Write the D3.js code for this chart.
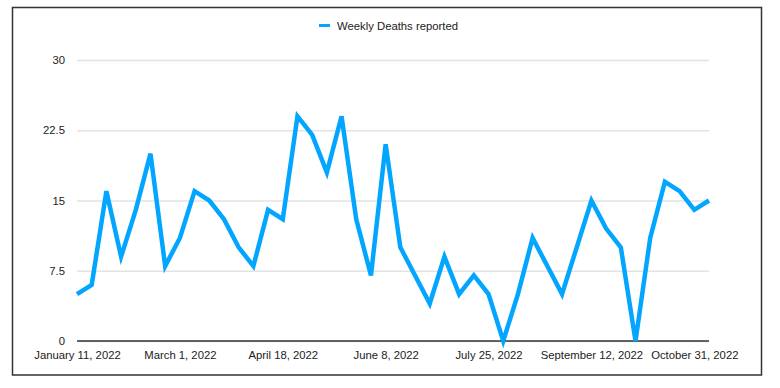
<!DOCTYPE html>
<html>
<head>
<meta charset="utf-8">
<script src="https://cdn.jsdelivr.net/npm/d3@7"></script>
<style>
  body { margin: 0; background: #fff; }
  text { font-family: "Liberation Sans", Arial, Helvetica, sans-serif; }
</style>
</head>
<body>
<div id="chart"></div>
<script>
// data
var seriesName = "Weekly Deaths reported";
var deaths = [5, 6, 16, 9, 14, 20, 8, 11, 16, 15, 13, 10, 8, 14, 13, 24, 22, 18, 24, 13, 7, 21,
    10, 7, 4, 9, 5, 7, 5, 0, 5, 11, 8, 5, 10, 15, 12, 10, 0, 11, 17, 16, 14, 15];
var tickIndex = [0, 7, 14, 21, 28, 35, 42];
var tickLabels = ["January 11, 2022", "March 1, 2022", "April 18, 2022", "June 8, 2022",
    "July 25, 2022", "September 12, 2022", "October 31, 2022"];
var yTicks = [0, 7.5, 15, 22.5, 30];

var W = 780, H = 388;
var margin = { top: 60, right: 71, bottom: 47, left: 77 },
    width = W - margin.left - margin.right,
    height = H - margin.top - margin.bottom;

var root = d3.select("#chart")
    .append("svg")
    .attr("width", W)
    .attr("height", H);

// frame
root.append("rect")
    .attr("x", 12.5)
    .attr("y", 7.5)
    .attr("width", 749)
    .attr("height", 367.5)
    .attr("fill", "none")
    .attr("stroke", "#333")
    .attr("stroke-width", 1.5);

var svg = root.append("g")
    .attr("transform", "translate(" + margin.left + "," + margin.top + ")");

var x = d3.scaleLinear().domain([0, deaths.length - 1]).range([0, width]);
var y = d3.scaleLinear().domain([0, 30]).range([height, 0]);

// grid + y labels
var yAxis = d3.axisLeft(y).tickValues(yTicks).tickSize(-width).tickPadding(12)
    .tickFormat(function (d) { return d; });
svg.append("g")
    .attr("class", "yAxis")
    .call(yAxis)
    .call(function (g) {
        g.select(".domain").remove();
        g.selectAll(".tick line").attr("stroke", "#e3e3e3").attr("stroke-width", 1.5);
        g.selectAll(".tick text").attr("fill", "#222").style("font-size", "11.3px");
    });

// baseline
svg.append("line")
    .attr("x1", 0).attr("x2", width)
    .attr("y1", y(0)).attr("y2", y(0))
    .attr("stroke", "#333").attr("stroke-width", 1.5);

// x labels
var xAxis = d3.axisBottom(x).tickValues(tickIndex).tickSize(0).tickPadding(10)
    .tickFormat(function (d, i) { return tickLabels[i]; });
svg.append("g")
    .attr("class", "xAxis")
    .attr("transform", "translate(0," + height + ")")
    .call(xAxis)
    .call(function (g) {
        g.select(".domain").remove();
        g.selectAll(".tick text").attr("fill", "#222").style("font-size", "11.3px");
    });

// line
svg.append("path")
    .datum(deaths)
    .attr("fill", "none")
    .attr("stroke", "#03a6ff")
    .attr("stroke-width", 4.5)
    .attr("stroke-linejoin", "miter")
    .attr("d", d3.line()
        .x(function (d, i) { return x(i); })
        .y(function (d) { return y(d); }));

// legend
var legend = root.append("g").attr("transform", "translate(319,25.5)");
legend.append("line")
    .attr("x1", 0).attr("x2", 11)
    .attr("stroke", "#03a6ff").attr("stroke-width", 3);
legend.append("text")
    .attr("x", 18)
    .attr("y", 4)
    .attr("fill", "#222")
    .style("font-size", "11.3px")
    .text(seriesName);
</script>
</body>
</html>
